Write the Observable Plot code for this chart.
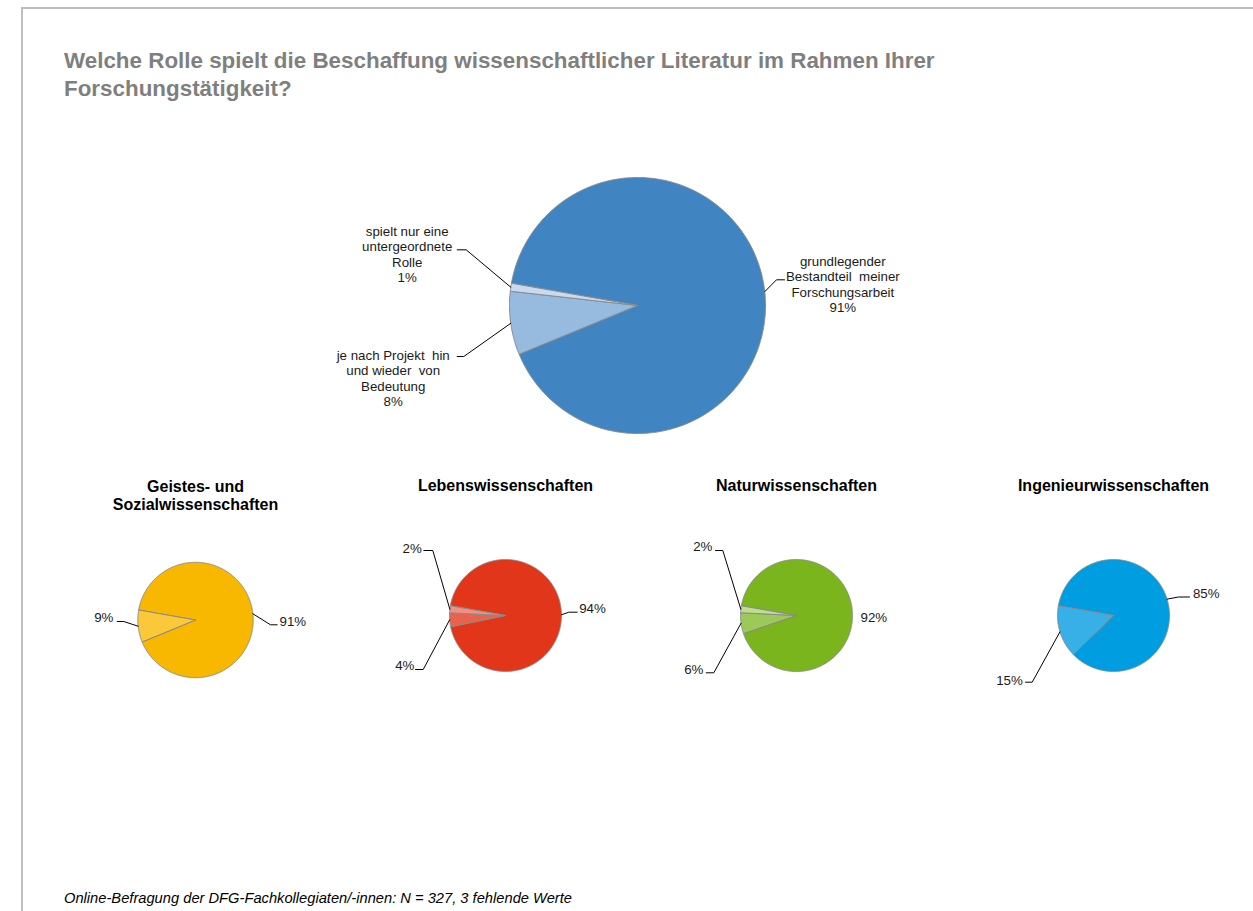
<!DOCTYPE html>
<html>
<head>
<meta charset="utf-8">
<script src="https://cdn.jsdelivr.net/npm/d3@7"></script>
<script src="https://cdn.jsdelivr.net/npm/@observablehq/plot@0.6"></script>
<style>
  html, body { margin: 0; padding: 0; background: #fff; }
  #page { position: relative; width: 1253px; height: 911px; overflow: hidden; font-family: "Liberation Sans", Arial, sans-serif; }
  #frame { position: absolute; left: 21px; top: 7px; right: 0; bottom: 0; border-left: 2px solid #bfbfbf; border-top: 2px solid #bfbfbf; }
  #title { position: absolute; left: 64px; top: 47px; font-size: 22.4px; font-weight: bold; color: #7f7f7f; line-height: 28px; }
  #caption { position: absolute; left: 64px; top: 890px; font-size: 14.7px; font-style: italic; color: #000; }
  #chart { position: absolute; left: 0; top: 0; }
</style>
</head>
<body>
<div id="page">
  <div id="frame"></div>
  <div id="chart"></div>
  <div id="title">Welche Rolle spielt die Beschaffung wissenschaftlicher Literatur im Rahmen Ihrer<br>Forschungstätigkeit?</div>
  <div id="caption">Online-Befragung der DFG-Fachkollegiaten/-innen: N = 327, 3 fehlende Werte</div>
</div>
<script>
// ---- data ----
const mainCategories = ["grundlegender Bestandteil meiner Forschungsarbeit", "je nach Projekt hin und wieder von Bedeutung", "spielt nur eine untergeordnete Rolle"];
const mainValues = [91, 8, 1];
const mainLabelText = ["grundlegender\nBestandteil  meiner\nForschungsarbeit", "je nach Projekt  hin\nund wieder  von\nBedeutung", "spielt nur eine\nuntergeordnete\nRolle"];
const groupNames = ["Geistes- und\nSozialwissenschaften", "Lebenswissenschaften", "Naturwissenschaften", "Ingenieurwissenschaften"];
const geistesValues = [91, 9];
const lebensValues = [94, 4, 2];
const naturValues = [92, 6, 2];
const ingenieurValues = [85, 15];

// ---- styles / layout ----
const mainColors = ["#4084c2", "#96bbdf", "#c8daef"];
const geistesColors = ["#f9b800", "#fbc83a"];
const lebensColors = ["#e2361a", "#e8634d", "#f19084"];
const naturColors = ["#7ab51d", "#9cc957", "#bfdc8f"];
const ingenieurColors = ["#009ee0", "#36b0e6"];
const firstSliceAngle = 280; // degrees, clockwise from 12 o'clock

// label layout: text offset (tx,ty), leader elbow (ex,ey), leader end (hx) — relative to pie centre
const pies = [
  {id: "main", values: mainValues, texts: mainLabelText.map((t, i) => t + "\n" + mainValues[i] + "%"), colors: mainColors, cx: 637, cy: 305, r: 128,
   layout: [
     {tx: 205.3, ty: -21.3, ex: 139, ey: -25.7, hx: 147},
     {tx: -244.3, ty: 72.5, ex: -173.7, ey: 51, hx: -180.3},
     {tx: -230.3, ty: -51.5, ex: -171.3, ey: -55.7, hx: -180.3}
   ]},
  {id: "geistes", title: groupNames[0], values: geistesValues, colors: geistesColors, cx: 195, cy: 619.5, r: 57.7,
   layout: [
     {tx: 97.3, ty: 1.5, ex: 75, ey: 4.8, hx: 81.7},
     {tx: -91.7, ty: -2.8, ex: -71.7, ey: 1.5, hx: -78.3}
   ]},
  {id: "lebens", title: groupNames[1], values: lebensValues, colors: lebensColors, cx: 505, cy: 615, r: 56,
   layout: [
     {tx: 87, ty: -7.3, ex: 63.3, ey: -3.3, hx: 71.7},
     {tx: -100.7, ty: 49.3, ex: -82.3, ey: 54, hx: -90},
     {tx: -93.3, ty: -67.7, ex: -72.7, ey: -65, hx: -81.7}
   ]},
  {id: "natur", title: groupNames[2], values: naturValues, colors: naturColors, cx: 796, cy: 615, r: 56,
   layout: [
     {tx: 77.3, ty: 1.7},
     {tx: -102.7, ty: 54, ex: -82.7, ey: 57.3, hx: -90.3},
     {tx: -93.7, ty: -69, ex: -73.7, ey: -65, hx: -81}
   ]},
  {id: "ingenieur", title: groupNames[3], values: ingenieurValues, colors: ingenieurColors, cx: 1113, cy: 615, r: 56,
   layout: [
     {tx: 92.7, ty: -22.3, ex: 65, ey: -18.5, hx: 76},
     {tx: -104, ty: 64.3, ex: -81.3, ey: 66.7, hx: -88}
   ]}
];
const groupTitleY = 485;

// ---- geometry from values ----
const rad = Math.PI / 180;
const slicePts = [], leaderPts = [], labels = [], titles = [];
for (const p of pies) {
  const arcs = d3.pie().sort(null).value(d => d)
    .startAngle(firstSliceAngle * rad).endAngle(firstSliceAngle * rad + 2 * Math.PI)(p.values);
  arcs.forEach((a, i) => {
    const sid = p.id + "-" + i;
    const pt = (ang, rr) => ({x: p.cx + rr * Math.sin(ang), y: p.cy - rr * Math.cos(ang)});
    const color = p.colors[i];
    slicePts.push({id: sid, color, ...pt(0, 0)});
    const n = Math.max(2, Math.ceil((a.endAngle - a.startAngle) / (0.5 * rad)));
    for (let k = 0; k <= n; k++) {
      const ang = a.startAngle + (a.endAngle - a.startAngle) * k / n;
      slicePts.push({id: sid, color, ...pt(ang, p.r)});
    }
    slicePts.push({id: sid, color, ...pt(0, 0)});
    const L = p.layout[i];
    const text = p.texts ? p.texts[i] : p.values[i] + "%";
    labels.push({x: p.cx + L.tx, y: p.cy + L.ty, text, main: p.id === "main"});
    if (L.ex !== undefined) {
      const mid = (a.startAngle + a.endAngle) / 2;
      leaderPts.push({id: sid, ...pt(mid, p.r)});
      leaderPts.push({id: sid, x: p.cx + L.ex, y: p.cy + L.ey});
      leaderPts.push({id: sid, x: p.cx + L.hx, y: p.cy + L.ey});
    }
  });
  if (p.title) {
    const lines = p.title.split("\n").length;
    titles.push({x: p.cx, y: groupTitleY + (lines - 1) * 9.4, text: p.title});
  }
}

const W = 1253, H = 911;
const chart = Plot.plot({
  width: W, height: H,
  margin: 0,
  x: {domain: [0, W], range: [0, W], axis: null},
  y: {domain: [0, H], range: [0, H], axis: null},
  color: {type: "identity"},
  style: {fontFamily: "'Liberation Sans', Arial, sans-serif", background: "transparent"},
  marks: [
    Plot.line(slicePts, {x: "x", y: "y", z: "id", fill: "color", stroke: "#8a8a8a", strokeWidth: 1, curve: "linear", strokeLinejoin: "round"}),
    Plot.line(leaderPts, {x: "x", y: "y", z: "id", stroke: "#000", strokeWidth: 1, curve: "linear"}),
    Plot.text(labels, {x: "x", y: "y", text: "text", fontSize: 13.3, fill: "#1a1a1a", lineHeight: 1.15, lineAnchor: "middle", textAnchor: "middle"}),
    Plot.text(titles, {x: "x", y: "y", text: "text", fontSize: 16, fontWeight: "bold", fill: "#000", lineHeight: 1.16, lineAnchor: "middle", textAnchor: "middle"})
  ]
});
document.getElementById("chart").appendChild(chart);
</script>
</body>
</html>
